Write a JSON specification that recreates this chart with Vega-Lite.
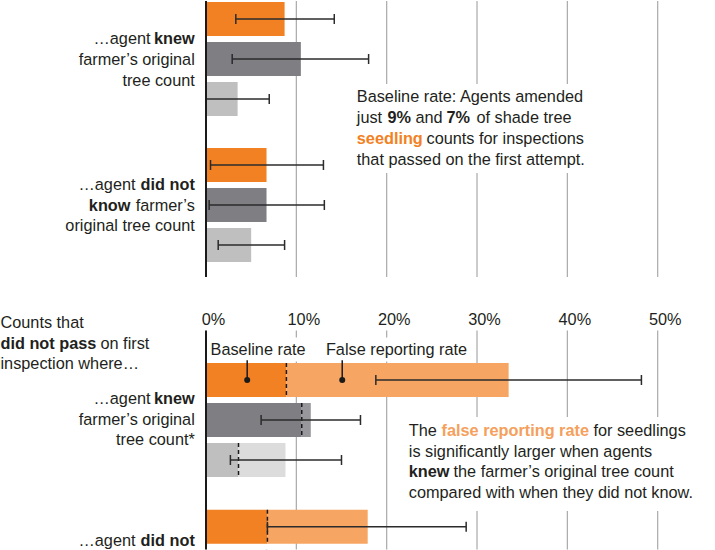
{
"$schema": "https://vega.github.io/schema/vega-lite/v6.json",
"padding": 0,
"spacing": 33.5,
"config": {
  "view": {"stroke": null},
  "font": "Liberation Sans, Arial, sans-serif",
  "text": {"font": "Liberation Sans, Arial, sans-serif", "fontSize": 16.3, "color": "#231f20", "baseline": "middle"},
  "axis": {"grid": false, "domain": false, "ticks": false},
  "axisY": {"disable": true}
},
"datasets": {
  "grid": [{"gridPct": 10}, {"gridPct": 20}, {"gridPct": 30}, {"gridPct": 40}, {"gridPct": 50}],
  "passed": [
    {"group": "knew", "series": "Seedlings", "rate": 8.7, "lo": 3.3, "hi": 14.2},
    {"group": "knew", "series": "Saplings", "rate": 10.5, "lo": 2.9, "hi": 18.0},
    {"group": "knew", "series": "Mature trees", "rate": 3.5, "lo": 0.0, "hi": 7.0},
    {"group": "did not know", "series": "Seedlings", "rate": 6.7, "lo": 0.5, "hi": 13.0},
    {"group": "did not know", "series": "Saplings", "rate": 6.7, "lo": 0.35, "hi": 13.1},
    {"group": "did not know", "series": "Mature trees", "rate": 5.0, "lo": 1.35, "hi": 8.7}
  ],
  "notPassed": [
    {"group": "knew", "series": "Seedlings", "baseline": 8.9, "total": 33.5, "lo": 18.8, "hi": 48.2},
    {"group": "knew", "series": "Saplings", "baseline": 10.6, "total": 11.6, "lo": 6.1, "hi": 17.1},
    {"group": "knew", "series": "Mature trees", "baseline": 3.6, "total": 8.8, "lo": 2.7, "hi": 15.0},
    {"group": "did not know", "series": "Seedlings", "baseline": 6.8, "total": 17.9, "lo": 6.8, "hi": 28.8},
    {"group": "did not know", "series": "Saplings", "baseline": 6.7, "total": 12.0, "lo": 4.0, "hi": 20.0},
    {"group": "did not know", "series": "Mature trees", "baseline": 5.0, "total": 7.5, "lo": 1.5, "hi": 13.0}
  ]
},
"vconcat": [
{
  "width": 509.5,
  "height": 276,
  "layer": [
    {"data": {"name": "grid"}, "mark": {"type": "rule", "color": "#a9a9a9", "strokeWidth": 1.2},
     "encoding": {"x": {"field": "gridPct", "type": "quantitative", "scale": {"domain": [0, 56.4], "nice": false, "zero": false}, "axis": null}}},
    {"data": {"name": "passed"}, "mark": {"type": "bar"},
     "encoding": {
       "x": {"field": "rate", "type": "quantitative", "stack": null, "scale": {"domain": [0, 56.4], "nice": false, "zero": false}, "axis": null},
       "y": {"field": "group", "type": "nominal", "scale": {"domain": ["knew", "did not know"], "range": [1, 261], "paddingInner": 0.219, "paddingOuter": 0}, "axis": null},
       "yOffset": {"field": "series", "type": "nominal", "scale": {"domain": ["Seedlings", "Saplings", "Mature trees"], "paddingInner": 0.15, "paddingOuter": 0}},
       "color": {"field": "series", "type": "nominal", "scale": {"domain": ["Seedlings", "Saplings", "Mature trees"], "range": ["#F28123", "#7E7E83", "#BFBFBF"]}, "legend": null}}},
    {"data": {"values": [{}]}, "mark": {"type": "point", "shape": "M-12,-1.5H12V7.4H-12Z", "size": 400, "filled": true, "color": "white", "opacity": 1},
     "encoding": {"x": {"datum": 29.28, "scale": {"domain": [0, 56.4], "nice": false, "zero": false}, "axis": null}, "y": {"datum": "knew", "axis": null}, "yOffset": {"datum": "Mature trees"}}},
    {"data": {"name": "passed"}, "mark": {"type": "rule", "color": "#2b2b2b", "strokeWidth": 1.5},
     "encoding": {
       "x": {"field": "lo", "type": "quantitative", "scale": {"domain": [0, 56.4], "nice": false, "zero": false}, "axis": null},
       "x2": {"field": "hi"},
       "y": {"field": "group", "type": "nominal", "axis": null},
       "yOffset": {"field": "series", "type": "nominal"}}},
    {"data": {"name": "passed"}, "mark": {"type": "tick", "orient": "vertical", "size": 10, "thickness": 1.5, "color": "#2b2b2b", "opacity": 1},
     "encoding": {
       "x": {"field": "lo", "type": "quantitative", "scale": {"domain": [0, 56.4], "nice": false, "zero": false}, "axis": null},
       "y": {"field": "group", "type": "nominal", "axis": null},
       "yOffset": {"field": "series", "type": "nominal"}}},
    {"data": {"name": "passed"}, "mark": {"type": "tick", "orient": "vertical", "size": 10, "thickness": 1.5, "color": "#2b2b2b", "opacity": 1},
     "encoding": {
       "x": {"field": "hi", "type": "quantitative", "scale": {"domain": [0, 56.4], "nice": false, "zero": false}, "axis": null},
       "y": {"field": "group", "type": "nominal", "axis": null},
       "yOffset": {"field": "series", "type": "nominal"}}},
    {"data": {"values": [{}]}, "mark": {"type": "text", "align": "right", "dy": -20},
     "encoding": {"x": {"datum": -6.14, "scale": {"domain": [0, 56.4], "nice": false, "zero": false}, "axis": null}, "y": {"datum": "knew", "axis": null}, "text": {"value": "…agent"}}},
    {"data": {"values": [{}]}, "mark": {"type": "text", "align": "right", "dy": -20, "fontWeight": "bold"},
     "encoding": {"x": {"datum": -1.24, "scale": {"domain": [0, 56.4], "nice": false, "zero": false}, "axis": null}, "y": {"datum": "knew", "axis": null}, "text": {"value": "knew"}}},
    {"data": {"values": [{}]}, "mark": {"type": "text", "align": "right", "dy": 1, "lineHeight": 20.5},
     "encoding": {"x": {"datum": -1.24, "scale": {"domain": [0, 56.4], "nice": false, "zero": false}, "axis": null}, "y": {"datum": "knew", "axis": null}, "text": {"value": ["farmer’s original", "tree count"]}}},
    {"data": {"values": [{}]}, "mark": {"type": "text", "align": "right", "dy": -20},
     "encoding": {"x": {"datum": -7.80, "scale": {"domain": [0, 56.4], "nice": false, "zero": false}, "axis": null}, "y": {"datum": "did not know", "axis": null}, "text": {"value": "…agent"}}},
    {"data": {"values": [{}]}, "mark": {"type": "text", "align": "right", "dy": -20, "fontWeight": "bold"},
     "encoding": {"x": {"datum": -1.24, "scale": {"domain": [0, 56.4], "nice": false, "zero": false}, "axis": null}, "y": {"datum": "did not know", "axis": null}, "text": {"value": "did not"}}},
    {"data": {"values": [{}]}, "mark": {"type": "text", "align": "right", "dy": 1, "fontWeight": "bold"},
     "encoding": {"x": {"datum": -8.36, "scale": {"domain": [0, 56.4], "nice": false, "zero": false}, "axis": null}, "y": {"datum": "did not know", "axis": null}, "text": {"value": "know"}}},
    {"data": {"values": [{}]}, "mark": {"type": "text", "align": "right", "dy": 1},
     "encoding": {"x": {"datum": -1.24, "scale": {"domain": [0, 56.4], "nice": false, "zero": false}, "axis": null}, "y": {"datum": "did not know", "axis": null}, "text": {"value": "farmer’s"}}},
    {"data": {"values": [{}]}, "mark": {"type": "text", "align": "right", "dy": 21},
     "encoding": {"x": {"datum": -1.24, "scale": {"domain": [0, 56.4], "nice": false, "zero": false}, "axis": null}, "y": {"datum": "did not know", "axis": null}, "text": {"value": "original tree count"}}},
    {"data": {"values": [{}]}, "mark": {"type": "text", "align": "left", "dy": 38},
     "encoding": {"x": {"datum": 16.69, "scale": {"domain": [0, 56.4], "nice": false, "zero": false}, "axis": null}, "y": {"datum": "knew", "axis": null}, "text": {"value": "Baseline rate: Agents amended"}}},
    {"data": {"values": [{}]}, "mark": {"type": "text", "align": "left", "dy": 59},
     "encoding": {"x": {"datum": 16.69, "scale": {"domain": [0, 56.4], "nice": false, "zero": false}, "axis": null}, "y": {"datum": "knew", "axis": null}, "text": {"value": "just"}}},
    {"data": {"values": [{}]}, "mark": {"type": "text", "align": "left", "dy": 59, "fontWeight": "bold"},
     "encoding": {"x": {"datum": 20.09, "scale": {"domain": [0, 56.4], "nice": false, "zero": false}, "axis": null}, "y": {"datum": "knew", "axis": null}, "text": {"value": "9%"}}},
    {"data": {"values": [{}]}, "mark": {"type": "text", "align": "left", "dy": 59},
     "encoding": {"x": {"datum": 23.19, "scale": {"domain": [0, 56.4], "nice": false, "zero": false}, "axis": null}, "y": {"datum": "knew", "axis": null}, "text": {"value": "and"}}},
    {"data": {"values": [{}]}, "mark": {"type": "text", "align": "left", "dy": 59, "fontWeight": "bold"},
     "encoding": {"x": {"datum": 26.62, "scale": {"domain": [0, 56.4], "nice": false, "zero": false}, "axis": null}, "y": {"datum": "knew", "axis": null}, "text": {"value": "7%"}}},
    {"data": {"values": [{}]}, "mark": {"type": "text", "align": "left", "dy": 59},
     "encoding": {"x": {"datum": 29.94, "scale": {"domain": [0, 56.4], "nice": false, "zero": false}, "axis": null}, "y": {"datum": "knew", "axis": null}, "text": {"value": "of shade tree"}}},
    {"data": {"values": [{}]}, "mark": {"type": "text", "align": "left", "dy": 80, "fontWeight": "bold", "color": "#F28123"},
     "encoding": {"x": {"datum": 16.69, "scale": {"domain": [0, 56.4], "nice": false, "zero": false}, "axis": null}, "y": {"datum": "knew", "axis": null}, "text": {"value": "seedling"}}},
    {"data": {"values": [{}]}, "mark": {"type": "text", "align": "left", "dy": 80},
     "encoding": {"x": {"datum": 24.41, "scale": {"domain": [0, 56.4], "nice": false, "zero": false}, "axis": null}, "y": {"datum": "knew", "axis": null}, "text": {"value": "counts for inspections"}}},
    {"data": {"values": [{}]}, "mark": {"type": "text", "align": "left", "dy": 101},
     "encoding": {"x": {"datum": 16.69, "scale": {"domain": [0, 56.4], "nice": false, "zero": false}, "axis": null}, "y": {"datum": "knew", "axis": null}, "text": {"value": "that passed on the first attempt."}}},
    {"data": {"values": [{}]}, "mark": {"type": "rule", "color": "#1a1a1a", "strokeWidth": 2},
     "encoding": {"x": {"datum": 0, "scale": {"domain": [0, 56.4], "nice": false, "zero": false}, "axis": null}}}
  ]
},
{
  "width": 509.5,
  "height": 219,
  "layer": [
    {"data": {"name": "grid"}, "mark": {"type": "rule", "color": "#a9a9a9", "strokeWidth": 1.2},
     "encoding": {"x": {"field": "gridPct", "type": "quantitative", "scale": {"domain": [0, 56.4], "nice": false, "zero": false},
       "axis": {"orient": "top", "values": [0, 10, 20, 30, 40, 50], "labelExpr": "datum.value + '%'", "grid": false, "domain": false, "ticks": false, "tickSize": 0, "labelPadding": 3, "labelFontSize": 16.3, "labelFont": "Liberation Sans, Arial, sans-serif", "labelColor": "#231f20", "labelOffset": 7, "labelFlush": false, "labelOverlap": false, "labelBound": false, "title": null}}}},
    {"data": {"name": "notPassed"}, "mark": {"type": "bar", "clip": true},
     "encoding": {
       "x": {"field": "baseline", "type": "quantitative", "stack": null, "scale": {"domain": [0, 56.4], "nice": false, "zero": false}},
       "y": {"field": "group", "type": "nominal", "scale": {"domain": ["knew", "did not know"], "range": [32.5, 293], "paddingInner": 0.225, "paddingOuter": 0}, "axis": null},
       "yOffset": {"field": "series", "type": "nominal", "scale": {"domain": ["Seedlings", "Saplings", "Mature trees"], "paddingInner": 0.15, "paddingOuter": 0}},
       "color": {"field": "series", "type": "nominal", "scale": {"domain": ["Seedlings", "Saplings", "Mature trees"], "range": ["#F28123", "#7E7E83", "#BDBDBD"]}, "legend": null}}},
    {"data": {"values": [{}]}, "mark": {"type": "point", "shape": "M-14.75,-0.3H14.75V9.1H-14.75Z", "size": 400, "filled": true, "color": "white", "opacity": 1},
     "encoding": {"x": {"datum": 38.08}, "y": {"datum": "knew", "axis": null}, "yOffset": {"datum": "Saplings"}}},
    {"data": {"values": [{}]}, "mark": {"type": "point", "shape": "M0.25,-4.25H26.35V-1.85H0.25Z", "size": 400, "filled": true, "color": "white", "opacity": 1},
     "encoding": {"x": {"datum": 0}, "y": {"datum": "knew", "axis": null}, "yOffset": {"datum": "Seedlings"}}},
    {"data": {"name": "notPassed"}, "mark": {"type": "bar", "clip": true},
     "encoding": {
       "x": {"field": "baseline", "type": "quantitative"},
       "x2": {"field": "total"},
       "y": {"field": "group", "type": "nominal", "axis": null},
       "yOffset": {"field": "series", "type": "nominal"},
       "fill": {"field": "series", "type": "nominal", "scale": {"domain": ["Seedlings", "Saplings", "Mature trees"], "range": ["#F6A563", "#98989C", "#DCDCDC"]}, "legend": null}}},
    {"data": {"name": "notPassed"}, "mark": {"type": "point", "shape": "M0,-1L0,1", "size": 1156, "filled": false, "color": "#1a1a1a", "strokeWidth": 1.5, "strokeDash": [4, 3], "opacity": 1, "clip": true},
     "encoding": {
       "x": {"field": "baseline", "type": "quantitative"},
       "y": {"field": "group", "type": "nominal", "axis": null},
       "yOffset": {"field": "series", "type": "nominal"}}},
    {"data": {"name": "notPassed"}, "mark": {"type": "rule", "color": "#2b2b2b", "strokeWidth": 1.5, "clip": true},
     "encoding": {
       "x": {"field": "lo", "type": "quantitative"},
       "x2": {"field": "hi"},
       "y": {"field": "group", "type": "nominal", "axis": null},
       "yOffset": {"field": "series", "type": "nominal"}}},
    {"data": {"name": "notPassed"}, "mark": {"type": "tick", "orient": "vertical", "size": 10, "thickness": 1.5, "color": "#2b2b2b", "opacity": 1, "clip": true},
     "encoding": {
       "x": {"field": "lo", "type": "quantitative"},
       "y": {"field": "group", "type": "nominal", "axis": null},
       "yOffset": {"field": "series", "type": "nominal"}}},
    {"data": {"name": "notPassed"}, "mark": {"type": "tick", "orient": "vertical", "size": 10, "thickness": 1.5, "color": "#2b2b2b", "opacity": 1, "clip": true},
     "encoding": {
       "x": {"field": "hi", "type": "quantitative"},
       "y": {"field": "group", "type": "nominal", "axis": null},
       "yOffset": {"field": "series", "type": "nominal"}}},
    {"data": {"values": [{}]}, "mark": {"type": "point", "shape": "M0,-1L0,0", "size": 1568, "filled": false, "color": "#1a1a1a", "strokeWidth": 1.5, "opacity": 1},
     "encoding": {"x": {"datum": 4.56}, "y": {"datum": "knew", "axis": null}, "yOffset": {"datum": "Seedlings"}}},
    {"data": {"values": [{}]}, "mark": {"type": "point", "shape": "M0,-1L0,0", "size": 1568, "filled": false, "color": "#1a1a1a", "strokeWidth": 1.5, "opacity": 1},
     "encoding": {"x": {"datum": 15.08}, "y": {"datum": "knew", "axis": null}, "yOffset": {"datum": "Seedlings"}}},
    {"data": {"values": [{}]}, "mark": {"type": "point", "shape": "circle", "size": 36, "filled": true, "color": "#1a1a1a", "opacity": 1},
     "encoding": {"x": {"datum": 4.56}, "y": {"datum": "knew", "axis": null}, "yOffset": {"datum": "Seedlings"}}},
    {"data": {"values": [{}]}, "mark": {"type": "point", "shape": "circle", "size": 36, "filled": true, "color": "#1a1a1a", "opacity": 1},
     "encoding": {"x": {"datum": 15.08}, "y": {"datum": "knew", "axis": null}, "yOffset": {"datum": "Seedlings"}}},
    {"data": {"values": [{}]}, "mark": {"type": "text", "align": "center", "dy": -30.5},
     "encoding": {"x": {"datum": 5.76}, "y": {"datum": "knew", "axis": null}, "yOffset": {"datum": "Seedlings"}, "text": {"value": "Baseline rate"}}},
    {"data": {"values": [{}]}, "mark": {"type": "text", "align": "center", "dy": -30.5},
     "encoding": {"x": {"datum": 21.09}, "y": {"datum": "knew", "axis": null}, "yOffset": {"datum": "Seedlings"}, "text": {"value": "False reporting rate"}}},
    {"data": {"values": [{}]}, "mark": {"type": "text", "align": "left", "dy": -96.4},
     "encoding": {"x": {"datum": -22.75}, "y": {"datum": "knew", "axis": null}, "text": {"value": "Counts that"}}},
    {"data": {"values": [{}]}, "mark": {"type": "text", "align": "left", "dy": -75.9, "fontWeight": "bold"},
     "encoding": {"x": {"datum": -22.75}, "y": {"datum": "knew", "axis": null}, "text": {"value": "did not pass"}}},
    {"data": {"values": [{}]}, "mark": {"type": "text", "align": "left", "dy": -75.9},
     "encoding": {"x": {"datum": -11.68}, "y": {"datum": "knew", "axis": null}, "text": {"value": "on first"}}},
    {"data": {"values": [{}]}, "mark": {"type": "text", "align": "left", "dy": -55.4},
     "encoding": {"x": {"datum": -22.75}, "y": {"datum": "knew", "axis": null}, "text": {"value": "inspection where…"}}},
    {"data": {"values": [{}]}, "mark": {"type": "text", "align": "right", "dy": -20.4},
     "encoding": {"x": {"datum": -6.14}, "y": {"datum": "knew", "axis": null}, "text": {"value": "…agent"}}},
    {"data": {"values": [{}]}, "mark": {"type": "text", "align": "right", "dy": -20.4, "fontWeight": "bold"},
     "encoding": {"x": {"datum": -1.24}, "y": {"datum": "knew", "axis": null}, "text": {"value": "knew"}}},
    {"data": {"values": [{}]}, "mark": {"type": "text", "align": "right", "dy": 0.6, "lineHeight": 20},
     "encoding": {"x": {"datum": -1.24}, "y": {"datum": "knew", "axis": null}, "text": {"value": ["farmer’s original", "tree count*"]}}},
    {"data": {"values": [{}]}, "mark": {"type": "text", "align": "right", "dy": -25.65},
     "encoding": {"x": {"datum": -7.80}, "y": {"datum": "did not know", "axis": null}, "text": {"value": "…agent"}}},
    {"data": {"values": [{}]}, "mark": {"type": "text", "align": "right", "dy": -25.65, "fontWeight": "bold"},
     "encoding": {"x": {"datum": -1.24}, "y": {"datum": "did not know", "axis": null}, "text": {"value": "did not"}}},
    {"data": {"values": [{}]}, "mark": {"type": "text", "align": "left", "dy": 11.15},
     "encoding": {"x": {"datum": 22.45}, "y": {"datum": "knew", "axis": null}, "text": {"value": "The"}}},
    {"data": {"values": [{}]}, "mark": {"type": "text", "align": "left", "dy": 11.15, "fontWeight": "bold", "color": "#F5A05C"},
     "encoding": {"x": {"datum": 26.07}, "y": {"datum": "knew", "axis": null}, "text": {"value": "false reporting rate"}}},
    {"data": {"values": [{}]}, "mark": {"type": "text", "align": "left", "dy": 11.15},
     "encoding": {"x": {"datum": 42.89}, "y": {"datum": "knew", "axis": null}, "text": {"value": "for seedlings"}}},
    {"data": {"values": [{}]}, "mark": {"type": "text", "align": "left", "dy": 31.65},
     "encoding": {"x": {"datum": 22.45}, "y": {"datum": "knew", "axis": null}, "text": {"value": "is significantly larger when agents"}}},
    {"data": {"values": [{}]}, "mark": {"type": "text", "align": "left", "dy": 52.15, "fontWeight": "bold"},
     "encoding": {"x": {"datum": 22.45}, "y": {"datum": "knew", "axis": null}, "text": {"value": "knew"}}},
    {"data": {"values": [{}]}, "mark": {"type": "text", "align": "left", "dy": 52.15},
     "encoding": {"x": {"datum": 27.40}, "y": {"datum": "knew", "axis": null}, "text": {"value": "the farmer’s original tree count"}}},
    {"data": {"values": [{}]}, "mark": {"type": "text", "align": "left", "dy": 73.15},
     "encoding": {"x": {"datum": 22.45}, "y": {"datum": "knew", "axis": null}, "text": {"value": "compared with when they did not know."}}},
    {"data": {"values": [{}]}, "mark": {"type": "rule", "color": "#1a1a1a", "strokeWidth": 2},
     "encoding": {"x": {"datum": 0}}}
  ]
}
]
}
